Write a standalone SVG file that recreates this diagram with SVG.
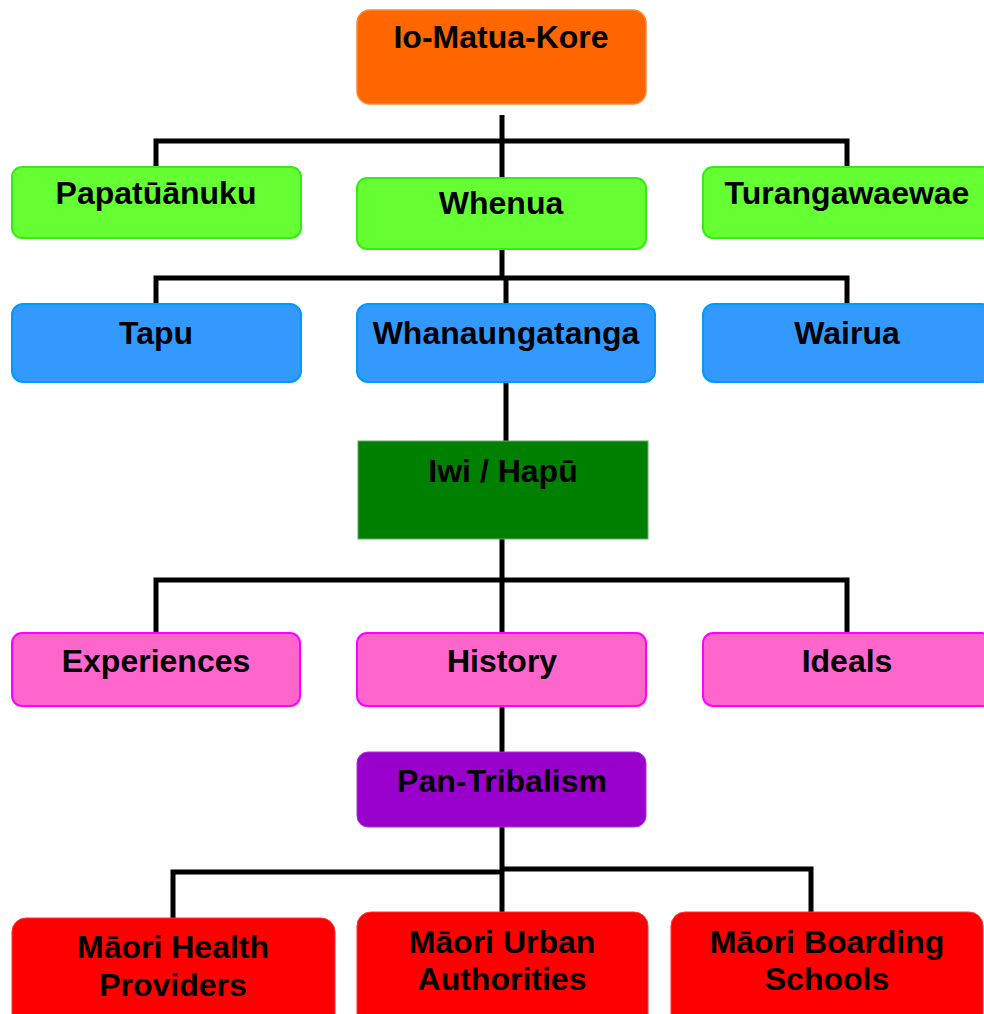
<svg xmlns="http://www.w3.org/2000/svg" width="984" height="1014" viewBox="0 0 984 1014">
<style>
text{font-family:"Liberation Sans",Arial,sans-serif;font-weight:bold;font-size:32px;fill:#000;text-anchor:middle}
.orange{fill:#FF6600;stroke:#FF8833;stroke-width:1.5}
.green{fill:#66FF33;stroke:#33EE11;stroke-width:2}
.blue{fill:#3399FF;stroke:#0099FF;stroke-width:2}
.dkgreen{fill:#008000;stroke:#66AA66;stroke-width:1}
.pink{fill:#FF66CC;stroke:#FF00FF;stroke-width:2}
.purple{fill:#9900CC;stroke:#AA33DD;stroke-width:1}
.red{fill:#FF0000;stroke:#FF3333;stroke-width:1}
.conn{fill:none;stroke:#000;stroke-width:5}
</style>
<rect width="984" height="1014" fill="#fff"/>
<g id="connectors">
<path class="conn" d="M502 115V178M156 167V141H847V167"/>
<path class="conn" d="M502 249V278M156 304V278H847V304M506 278V304"/>
<path class="conn" d="M506 382V441"/>
<path class="conn" d="M502 539V633M156 633V580H847V633"/>
<path class="conn" d="M502 706V752"/>
<path class="conn" d="M502 827V912M173 918V872H502M502 869H811V913"/>
</g>
<g id="io-matua-kore"><rect class="orange" x="357" y="10" width="289" height="94" rx="13"/><text x="501" y="48">Io-Matua-Kore</text></g>
<g id="papatuanuku"><rect class="green" x="12" y="167" width="289" height="71" rx="10"/><text x="156" y="204">Papatūānuku</text></g>
<g id="whenua"><rect class="green" x="357" y="178" width="289" height="71" rx="10"/><text x="501" y="214">Whenua</text></g>
<g id="turangawaewae"><rect class="green" x="703" y="167" width="289" height="71" rx="10"/><text x="847" y="204">Turangawaewae</text></g>
<g id="tapu"><rect class="blue" x="12" y="304" width="289" height="78" rx="11"/><text x="156" y="344">Tapu</text></g>
<g id="whanaungatanga"><rect class="blue" x="357" y="304" width="298" height="78" rx="11"/><text x="506" y="344">Whanaungatanga</text></g>
<g id="wairua"><rect class="blue" x="703" y="304" width="289" height="78" rx="11"/><text x="847" y="344">Wairua</text></g>
<g id="iwi-hapu"><rect class="dkgreen" x="358" y="441" width="290" height="98"/><text x="503" y="482">Iwi / Hapū</text></g>
<g id="experiences"><rect class="pink" x="12" y="633" width="288" height="73" rx="10"/><text x="156" y="672">Experiences</text></g>
<g id="history"><rect class="pink" x="357" y="633" width="289" height="73" rx="10"/><text x="502" y="672">History</text></g>
<g id="ideals"><rect class="pink" x="703" y="633" width="289" height="73" rx="10"/><text x="847" y="672">Ideals</text></g>
<g id="pan-tribalism"><rect class="purple" x="357" y="752" width="289" height="75" rx="11"/><text x="502" y="792">Pan-Tribalism</text></g>
<g id="health-providers"><rect class="red" x="12" y="918" width="323" height="110" rx="14"/><text x="173" y="958">Māori Health</text><text x="173" y="996">Providers</text></g>
<g id="urban-authorities"><rect class="red" x="357" y="912" width="291" height="116" rx="14"/><text x="502" y="953">Māori Urban</text><text x="502" y="990">Authorities</text></g>
<g id="boarding-schools"><rect class="red" x="671" y="912" width="312" height="116" rx="14"/><text x="827" y="953">Māori Boarding</text><text x="827" y="990">Schools</text></g>
</svg>
